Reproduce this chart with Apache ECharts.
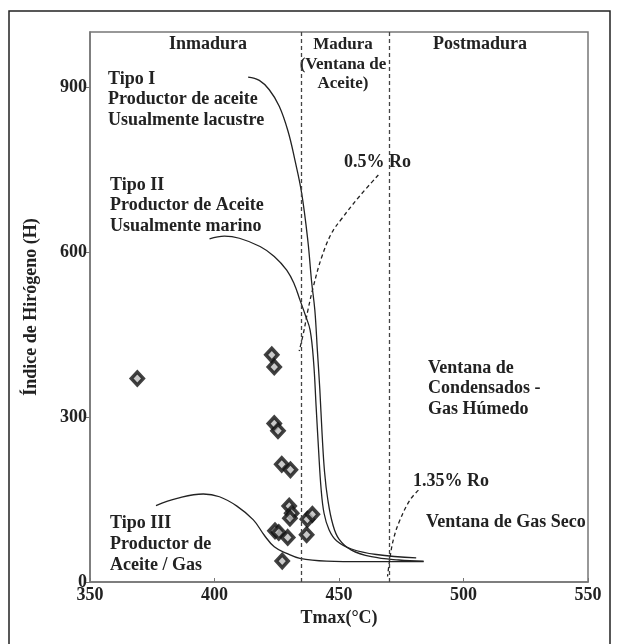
<!DOCTYPE html>
<html><head><meta charset="utf-8">
<script src="https://cdn.jsdelivr.net/npm/echarts@6/dist/echarts.min.js"></script>
<style>html,body{margin:0;padding:0;background:#fff}#c{width:617px;height:644px}</style>
</head><body><div id="c"></div>
<script>
// Data (Tmax °C, Índice de Hidrógeno)
const samples = [[369,370],[423,413],[424,391],[424,288],[425.5,275],[427,214],[430.5,204],[430,138],[431,125],[430.3,116],[424.3,93],[425.8,90],[429.4,81],[427.2,38],[437.3,114],[439.3,123],[437,86]];
const typeI = [[413.5,918],[418,912],[422,895],[426,865],[429.5,820],[432.3,767],[435,707],[437.5,620],[439,546],[440.3,494],[441.3,422],[442.3,350],[443.2,270],[444.2,200],[445.5,150],[447.5,105],[450,78],[455,58],[463,46],[474,40],[484,38]];
const typeII = [[398,624],[404,629],[410,625],[418.3,610],[424,592],[429,567],[432,542],[434.3,513],[436.5,485],[438.4,458],[439.8,400],[440.8,320],[441.8,240],[442.8,170],[444,125],[446,95],[449,75],[455,60],[465,50],[481,44]];
const typeIII = [[376.5,139],[385,152],[395.5,160],[402,155],[409,138],[415.6,113],[420,85],[424,64],[429,52],[434.3,43],[445,38],[460,37],[484,37]];
const ro05 = [[465.8,740],[458,700],[451,660],[447,634],[443,590],[439.7,537],[437.5,494],[435.7,452],[434,420]];
const ro135 = [[481.9,167],[478.5,149],[474.5,113],[472,80],[470.5,45],[469.5,10]];
const zoneBounds = [435, 470];
const xTicks = [350, 400, 450, 500, 550];
const yTicks = [0, 300, 600, 900];

const FONT = '"Liberation Serif","DejaVu Serif",serif';
const TXT = '#222';
const chart = echarts.init(document.getElementById('c'));

function label(x, y, lines, size, align, lh) {
  return {
    type: 'text', x: x, y: y, silent: true,
    style: { text: lines.join('\n'), font: 'bold ' + size + 'px ' + FONT, fill: TXT,
      textAlign: align || 'left', textVerticalAlign: 'top', lineHeight: lh || 20.5 }
  };
}
function lineSeries(data, dashed) {
  return { type: 'line', data: data, smooth: 0.4, symbol: 'none', silent: true,
    lineStyle: { color: '#222', width: 1.3, type: dashed ? [4, 3] : 'solid' } };
}

chart.setOption({
  animation: false,
  grid: { left: 90, right: 29, top: 32, bottom: 62, show: true, borderColor: '#777', borderWidth: 1.5 },
  xAxis: {
    type: 'value', min: xTicks[0], max: xTicks[xTicks.length - 1], interval: 50,
    name: 'Tmax(°C)', nameLocation: 'middle', nameGap: 20,
    nameTextStyle: { fontFamily: FONT, fontWeight: 'bold', fontSize: 18, color: TXT },
    axisLine: { lineStyle: { color: '#777', width: 1.5 } },
    axisTick: { length: 4, lineStyle: { color: '#777' }, inside: true },
    axisLabel: { fontFamily: FONT, fontWeight: 'bold', fontSize: 18, color: TXT, margin: 4 },
    splitLine: { show: false }
  },
  yAxis: {
    type: 'value', min: 0, max: 1000, interval: 300,
    name: 'Índice de Hirógeno (H)', nameLocation: 'middle', nameGap: 50, nameRotate: 90,
    nameTextStyle: { fontFamily: FONT, fontWeight: 'bold', fontSize: 18, color: TXT },
    axisLine: { lineStyle: { color: '#777', width: 1.5 } },
    axisTick: { length: 4, lineStyle: { color: '#777' } },
    axisLabel: { fontFamily: FONT, fontWeight: 'bold', fontSize: 18, color: TXT, margin: 3,
      showMaxLabel: false, formatter: v => yTicks.includes(v) ? String(v) : '' },
    splitLine: { show: false }
  },
  series: [
    lineSeries(typeI, false),
    lineSeries(typeII, false),
    lineSeries(typeIII, false),
    lineSeries(ro05, true),
    lineSeries(ro135, true),
    { type: 'line', data: [], symbol: 'none',
      markLine: { silent: true, symbol: 'none', label: { show: false },
        lineStyle: { color: '#444', type: [4, 3], width: 1.3 },
        data: zoneBounds.map(v => ({ xAxis: v })) } },
    { type: 'scatter', data: samples, symbol: 'diamond', symbolSize: [12, 13],
      itemStyle: { color: '#bbb', borderColor: '#111', borderWidth: 3.5 } }
  ],
  graphic: [
    { type: 'polyline', silent: true, shape: { points: [[9, 644], [9, 11], [610, 11], [610, 644]] },
      style: { stroke: '#222', lineWidth: 1.5, fill: null } },
    label(208, 34, ['Inmadura'], 18, 'center'),
    label(343, 35, ['Madura', '(Ventana de', 'Aceite)'], 17, 'center', 19.5),
    label(480, 34, ['Postmadura'], 18, 'center'),
    label(108, 69, ['Tipo I', 'Productor de aceite', 'Usualmente lacustre'], 18),
    label(344, 152, ['0.5% Ro'], 18),
    label(110, 175, ['Tipo II', 'Productor de Aceite', 'Usualmente marino'], 18),
    label(428, 358, ['Ventana de', 'Condensados -', 'Gas Húmedo'], 18),
    label(413, 471, ['1.35% Ro'], 18),
    label(426, 512, ['Ventana de Gas Seco'], 18),
    label(110, 513, ['Tipo III', 'Productor de', 'Aceite / Gas'], 18, 'left', 21)
  ]
});
</script></body></html>
